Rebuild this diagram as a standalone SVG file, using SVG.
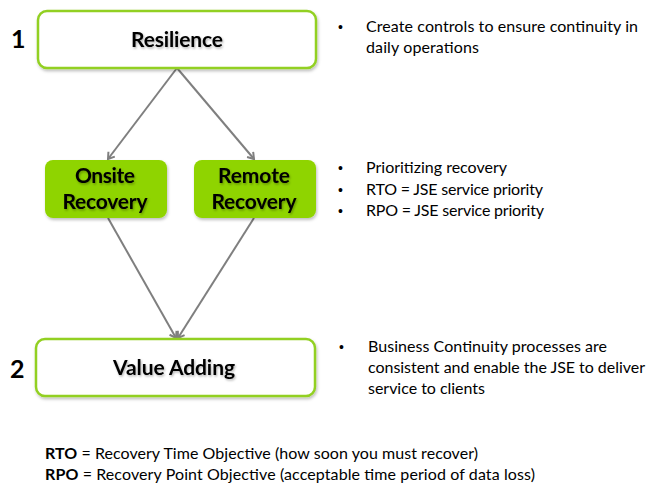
<svg xmlns="http://www.w3.org/2000/svg" width="650" height="485" viewBox="0 0 650 485">
  <style>
    .frame { fill: #ffffff; stroke: #92d022; stroke-width: 2.5; }
    .solid { fill: #8fd400; stroke: none; }
    .label { font-family: Lato, "Liberation Sans", sans-serif; font-weight: bold; font-size: 21px; fill: #000; text-anchor: middle; }
    .num { font-family: Lato, "Liberation Sans", sans-serif; font-weight: bold; font-size: 25px; fill: #000; }
    .note { font-family: Lato, "Liberation Sans", sans-serif; font-size: 16px; fill: #000; }
    .dot { font-family: "Liberation Sans", sans-serif; font-size: 14px; fill: #000; }
    .link { stroke: #7f7f7f; stroke-width: 2; fill: none; marker-end: url(#vee); }
  </style>
  <defs>
    <marker id="vee" markerWidth="10" markerHeight="10" refX="7" refY="5" orient="auto" markerUnits="userSpaceOnUse">
      <path d="M1,1 L7,5 L1,9" fill="none" stroke="#7f7f7f" stroke-width="2"/>
    </marker>
    <filter id="shade" x="-10%" y="-20%" width="120%" height="150%">
      <feDropShadow dx="1" dy="2" stdDeviation="1.5" flood-color="#000" flood-opacity="0.25"/>
    </filter>
    <filter id="tshade" x="-10%" y="-30%" width="120%" height="160%">
      <feDropShadow dx="1" dy="1.5" stdDeviation="1" flood-color="#000" flood-opacity="0.3"/>
    </filter>
  </defs>

  <!-- step numbers -->
  <text class="num" x="11" y="48">1</text>
  <text class="num" x="10" y="378">2</text>

  <!-- connectors -->
  <g id="connectors">
    <line class="link" x1="177" y1="68" x2="108" y2="159"/>
    <line class="link" x1="177" y1="68" x2="254" y2="159"/>
    <line class="link" x1="108" y1="218" x2="176" y2="338"/>
    <line class="link" x1="254" y1="218" x2="178" y2="338"/>
  </g>

  <g id="resilience" filter="url(#shade)">
    <rect class="frame" x="38" y="11" width="278" height="57" rx="9"/>
    <text class="label" x="177" y="47" textLength="92" filter="url(#tshade)">Resilience</text>
  </g>

  <g id="onsite" filter="url(#shade)">
    <rect class="solid" x="45" y="160" width="122" height="58" rx="8"/>
    <text class="label" x="105" y="183" textLength="60" filter="url(#tshade)">Onsite</text>
    <text class="label" x="105" y="209" textLength="85" filter="url(#tshade)">Recovery</text>
  </g>

  <g id="remote" filter="url(#shade)">
    <rect class="solid" x="194" y="160" width="122" height="58" rx="8"/>
    <text class="label" x="254" y="183" textLength="72" filter="url(#tshade)">Remote</text>
    <text class="label" x="254" y="209" textLength="85" filter="url(#tshade)">Recovery</text>
  </g>

  <g id="value-adding" filter="url(#shade)">
    <rect class="frame" x="36" y="339" width="279" height="57" rx="9"/>
    <text class="label" x="174" y="375" textLength="122" filter="url(#tshade)">Value Adding</text>
  </g>

  <!-- side notes -->
  <g id="notes-resilience">
    <text class="dot" x="338" y="32">•</text>
    <text class="note" x="366" y="32" textLength="272">Create controls to ensure continuity in</text>
    <text class="note" x="366" y="53" textLength="113">daily operations</text>
  </g>
  <g id="notes-recovery">
    <text class="dot" x="338" y="173">•</text>
    <text class="note" x="366" y="173" textLength="141">Prioritizing recovery</text>
    <text class="dot" x="338" y="195">•</text>
    <text class="note" x="366" y="195" textLength="177">RTO = JSE service priority</text>
    <text class="dot" x="338" y="216">•</text>
    <text class="note" x="366" y="216" textLength="178">RPO = JSE service priority</text>
  </g>
  <g id="notes-value">
    <text class="dot" x="339" y="352">•</text>
    <text class="note" x="368" y="352" textLength="239">Business Continuity processes are</text>
    <text class="note" x="368" y="373" textLength="277">consistent and enable the JSE to deliver</text>
    <text class="note" x="368" y="394" textLength="117">service to clients</text>
  </g>

  <!-- glossary -->
  <g id="glossary">
    <text class="note" x="45" y="459" textLength="433"><tspan font-weight="bold">RTO</tspan> = Recovery Time Objective (how soon you must recover)</text>
    <text class="note" x="45" y="480" textLength="490"><tspan font-weight="bold">RPO</tspan> = Recovery Point Objective (acceptable time period of data loss)</text>
  </g>
</svg>
